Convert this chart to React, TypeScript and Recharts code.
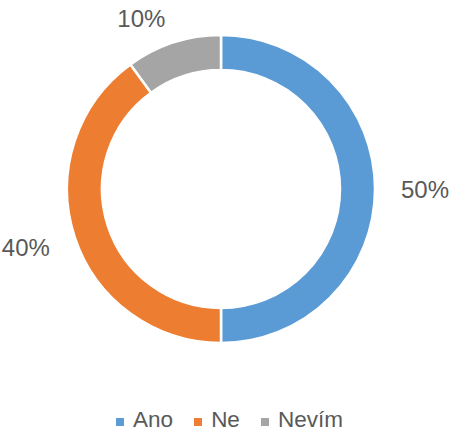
import { PieChart, Pie, Cell, Legend } from 'recharts';

const answers = ['Ano', 'Ne', 'Nevím'];
const shares = [50, 40, 10];
const COLORS = ['#5B9BD5', '#ED7D31', '#A5A5A5']; // office blue, orange, gray

const data = answers.map((name, i) => ({ name, value: shares[i] }));

const RADIAN = Math.PI / 180;
const LABEL_FONT = 24;

// place the label box just outside the ring, its nearest corner on the mid-angle ray
const renderLabel = (props: any) => {
  const { cx, cy, midAngle, outerRadius, value } = props;
  const cos = Math.cos(-midAngle * RADIAN);
  const sin = Math.sin(-midAngle * RADIAN);
  const r = outerRadius + 26;
  const halfW = 24;
  const halfH = 10;
  const x = cx + r * cos + Math.sign(Math.round(cos * 100)) * halfW;
  let y = cy + r * sin + Math.round(sin * 100) / 100 * halfH;
  y = Math.max(y, 18);
  return (
    <text x={x} y={y} fill="#595959" fontSize={LABEL_FONT} textAnchor="middle" dominantBaseline="central">
      {`${value}%`}
    </text>
  );
};

const renderLegend = () => (
  <div style={{ display: 'flex', justifyContent: 'center', alignItems: 'center', fontSize: 22.5, color: '#595959', lineHeight: '26px' }}>
    {data.map((d, i) => (
      <div key={d.name} style={{ display: 'flex', alignItems: 'center', marginRight: i < data.length - 1 ? 21 : 0 }}>
        <span style={{ width: 8, height: 8, background: COLORS[i], display: 'inline-block', marginRight: 9, marginTop: 3 }} />
        <span>{d.name}</span>
      </div>
    ))}
  </div>
);

export default function App() {
  return (
    <div style={{ position: 'absolute', left: 0, top: 0, fontFamily: '"Liberation Sans", Arial, sans-serif', background: '#fff' }}>
      <PieChart width={459} height={433} margin={{ top: 0, right: 0, bottom: 0, left: 0 }}>
        <Pie
          data={data}
          dataKey="value"
          nameKey="name"
          cx={221}
          cy={189}
          innerRadius={119}
          outerRadius={154}
          startAngle={90}
          endAngle={-270}
          stroke="#ffffff"
          strokeWidth={2.5}
          labelLine={false}
          label={renderLabel}
          isAnimationActive={false}
        >
          {data.map((entry, index) => (
            <Cell key={`cell-${index}`} fill={COLORS[index % COLORS.length]} />
          ))}
        </Pie>
        <Legend verticalAlign="bottom" content={renderLegend} wrapperStyle={{ bottom: 0 }} />
      </PieChart>
    </div>
  );
}
